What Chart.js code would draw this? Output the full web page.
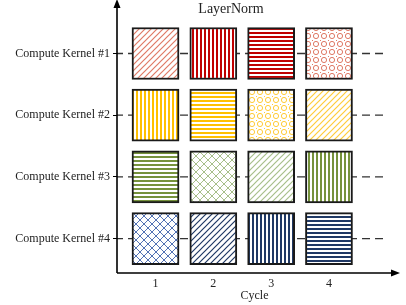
<!DOCTYPE html>
<html>
<head>
<meta charset="utf-8">
<script src="https://cdn.jsdelivr.net/npm/chart.js@4"></script>
<style>
  html, body { margin: 0; padding: 0; background: #fff; }
  #wrap { width: 406px; height: 305px; }
</style>
</head>
<body>
<div id="wrap"><canvas id="chart" width="406" height="305"></canvas></div>
<script>
// Schedule: one square per kernel per cycle
const kernels = ['Compute Kernel #1', 'Compute Kernel #2', 'Compute Kernel #3', 'Compute Kernel #4'];
const cycles = [1, 2, 3, 4];
const fills = [
    ['diag', 'vert', 'horiz', 'ring'],
    ['vert', 'horiz', 'ring', 'diag'],
    ['horiz', 'cross', 'diag', 'vert'],
    ['cross', 'diag', 'vert', 'horiz']
];
const kernelColors = ['#c00000', '#ffc000', '#76923c', '#1f3864'];
const kernelLight = ['#df7a66', '#ffcc3a', '#a7bf8a', '#5272b4'];
const titleText = 'LayerNorm';
const xTitle = 'Cycle';

const HALF = 0.407;       // half width of a square, in cycles
const LINE_END = 4.97;    // where the dashed row lines stop

function makePattern(kind, i) {
    const c = document.createElement('canvas');
    const g = c.getContext('2d');
    const col = kernelColors[i];
    const light = kernelLight[i];
    if (kind === 'vert' || kind === 'horiz') {
        c.width = 4; c.height = 4;
        g.fillStyle = '#fff'; g.fillRect(0, 0, 4, 4);
        g.fillStyle = col;
        if (kind === 'vert') g.fillRect(0, 0, 2, 4);
        else g.fillRect(0, 0, 4, 2);
    } else if (kind === 'diag') {
        c.width = 6; c.height = 6;
        g.fillStyle = '#fff'; g.fillRect(0, 0, 6, 6);
        g.strokeStyle = i === 3 ? col : light;
        g.lineWidth = 1.2;
        g.beginPath();
        g.moveTo(-1, 7); g.lineTo(7, -1);
        g.moveTo(-1, 1); g.lineTo(1, -1);
        g.moveTo(5, 7); g.lineTo(7, 5);
        g.stroke();
    } else if (kind === 'ring') {
        c.width = 8; c.height = 8;
        g.fillStyle = '#fff'; g.fillRect(0, 0, 8, 8);
        g.strokeStyle = light;
        g.lineWidth = 1;
        g.beginPath();
        g.arc(4, 4, 2.6, 0, Math.PI * 2);
        g.stroke();
        g.fillStyle = light;
        g.fillRect(0, 0, 1, 1);
    } else if (kind === 'cross') {
        c.width = 8; c.height = 8;
        g.fillStyle = '#fff'; g.fillRect(0, 0, 8, 8);
        g.strokeStyle = light;
        g.lineWidth = 1;
        g.beginPath();
        g.moveTo(-1, -1); g.lineTo(9, 9);
        g.moveTo(-1, 9); g.lineTo(9, -1);
        g.stroke();
    }
    return g.createPattern(c, 'repeat');
}

const datasets = [];

// dashed row lines behind the squares
kernels.forEach((k, i) => {
    datasets.push({
        type: 'line',
        data: [{ x: 0.3, y: i + 1 }, { x: LINE_END, y: i + 1 }],
        borderColor: '#333',
        borderWidth: 1.3,
        borderDash: [8, 5],
        pointRadius: 0,
        order: 2
    });
});

// one bar dataset per cycle
cycles.forEach((c, j) => {
    datasets.push({
        type: 'bar',
        data: kernels.map((k, i) => ({ y: i + 1, x: [c - HALF, c + HALF] })),
        backgroundColor: kernels.map((k, i) => makePattern(fills[i][j], i)),
        borderColor: '#1a1a1a',
        borderWidth: 2,
        borderSkipped: false,
        barThickness: 52,
        grouped: false,
        order: 1
    });
});

const axesPlugin = {
    id: 'axes',
    afterDraw(chart) {
        const { ctx, chartArea } = chart;
        const l = chartArea.left, b = chartArea.bottom;
        ctx.save();
        ctx.strokeStyle = '#000';
        ctx.fillStyle = '#000';
        ctx.lineWidth = 1.6;
        ctx.beginPath();
        ctx.moveTo(l, b); ctx.lineTo(l, 6);
        ctx.moveTo(l, b); ctx.lineTo(392, b);
        ctx.stroke();
        ctx.beginPath();
        ctx.moveTo(l, -1); ctx.lineTo(l - 3.5, 8); ctx.lineTo(l + 3.5, 8); ctx.closePath();
        ctx.fill();
        ctx.beginPath();
        ctx.moveTo(400, b); ctx.lineTo(391, b - 3.5); ctx.lineTo(391, b + 3.5); ctx.closePath();
        ctx.fill();
        ctx.font = '14px "Liberation Serif", "Times New Roman", serif';
        ctx.textAlign = 'center';
        ctx.textBaseline = 'middle';
        ctx.fillStyle = '#222';
        ctx.fillText(titleText, 231, 9);
        ctx.restore();
    }
};

Chart.defaults.font.family = '"Liberation Serif", "Times New Roman", serif';
Chart.defaults.font.size = 12;
Chart.defaults.color = '#222';

new Chart(document.getElementById('chart'), {
    type: 'bar',
    data: { datasets },
    options: {
        indexAxis: 'y',
        responsive: false,
        animation: false,
        layout: { padding: { top: 6, right: 14, left: 0, bottom: 0 } },
        plugins: { legend: { display: false }, tooltip: { enabled: false } },
        scales: {
            x: {
                type: 'linear',
                min: 0.334,
                max: 5.09,
                afterFit: s => { s.height = 32; },
                afterBuildTicks: s => { s.ticks = cycles.map(v => ({ value: v })); },
                grid: { display: false, drawTicks: false },
                border: { display: false },
                ticks: { padding: 4, callback: v => String(v) },
                title: { display: true, text: xTitle, padding: { top: 0, bottom: 2 } }
            },
            y: {
                type: 'linear',
                reverse: true,
                offset: false,
                min: 0.298,
                max: 4.558,
                afterFit: s => { s.width = 117; },
                afterBuildTicks: s => { s.ticks = kernels.map((k, i) => ({ value: i + 1 })); },
                grid: { drawOnChartArea: false, offset: false, tickLength: 4, color: '#000', tickWidth: 1 },
                border: { display: false },
                ticks: { padding: 3, callback: v => kernels[v - 1] }
            }
        }
    },
    plugins: [axesPlugin]
});
</script>
</body>
</html>
